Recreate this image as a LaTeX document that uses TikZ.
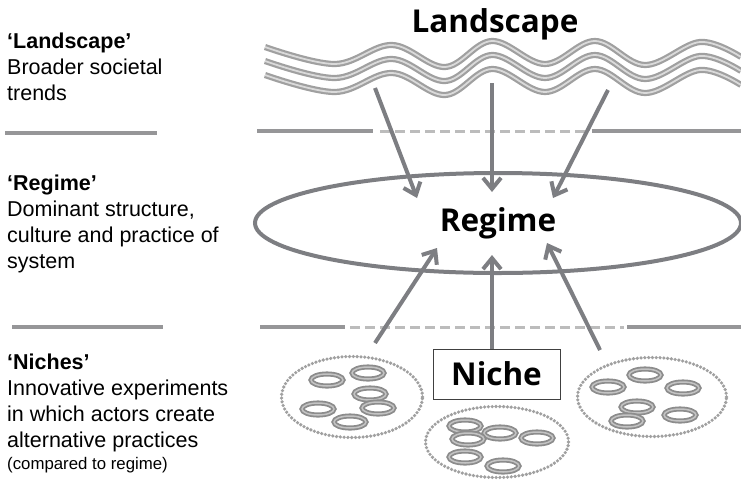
\documentclass[tikz,border=0pt]{standalone}
\usepackage{fontspec}
\setmainfont{Liberation Sans}
\newfontfamily\headfont{Open Sans}
\usetikzlibrary{arrows.meta,shapes.geometric,positioning}

\definecolor{arrowgray}{RGB}{125,126,130}
\definecolor{wavegray}{RGB}{160,160,160}
\definecolor{wavelight}{RGB}{218,218,218}
\definecolor{sepgray}{RGB}{150,150,152}
\definecolor{dashgray}{RGB}{188,188,188}
\definecolor{dotgray}{RGB}{160,160,160}
\definecolor{ringgray}{RGB}{140,140,140}
\definecolor{ringlight}{RGB}{195,195,195}

\tikzset{
  headtext/.style={font=\headfont\bfseries\fontsize{31.5}{36}\selectfont, inner sep=0pt},
  sidetext/.style={font=\fontsize{21.5}{26}\selectfont, align=left, inner sep=0pt, anchor=base west},
  notetext/.style={font=\fontsize{16.8}{20}\selectfont, inner sep=0pt, anchor=base west},
  flowarrow/.style={draw=arrowgray, line width=4pt, -{Straight Barb[length=11pt,width=18pt]}},
  regimering/.style={ellipse, draw=arrowgray, line width=4pt, minimum width=486pt, minimum height=100pt},
  nichecircle/.style={ellipse, draw=dotgray, line width=3.6pt, dash pattern=on 0pt off 3.8pt, line cap=round, inner sep=0pt},
  actor/.style={ellipse, draw=ringgray, line width=1.8pt, double=ringlight, double distance=1.5pt, minimum width=32pt, minimum height=12pt, inner sep=0pt},
  nichebox/.style={draw=black!75, line width=0.8pt, fill=white, minimum width=127pt, minimum height=50pt},
  solidsep/.style={draw=sepgray, line width=4pt},
  dashsep/.style={draw=dashgray, line width=3pt, dash pattern=on 10pt off 5pt},
  wave/.style={draw=wavegray, line width=2.2pt, double=wavelight, double distance=1.8pt},
}

\begin{document}
\begin{tikzpicture}[x=1pt,y=-1pt]
  \useasboundingbox (0,0) rectangle (741,485);

  % side descriptions
  \node[sidetext] (lstext) at (7,100) {\textbf{‘Landscape’}\\Broader societal\\trends};
  \node[sidetext] (rgtext) at (7,268) {\textbf{‘Regime’}\\Dominant structure,\\culture and practice of\\system};
  \node[sidetext] (nitext) at (7,447) {\textbf{‘Niches’}\\Innovative experiments\\in which actors create\\alternative practices};
  \node[notetext] (ninote) at (7,469) {(compared to regime)};

  % level separators
  \draw[solidsep] (5,133) -- (157,133);
  \draw[solidsep] (12,327) -- (163,327);
  \draw[solidsep] (257,131) -- (373,131);
  \draw[dashsep] (380,131) -- (588,131);
  \draw[solidsep] (592,131) -- (741,131);
  \draw[solidsep] (260,327) -- (345,327);
  \draw[dashsep] (350,327) -- (624,327);
  \draw[solidsep] (627,327) -- (741,327);

  % landscape trends
  \node[headtext] (landscape) at (495,24) {Landscape};
  \foreach \dy in {0,14,28}
    \draw[wave, shift={(0,\dy)}] plot[smooth, tension=0.6] coordinates
      {(265,47) (335,64) (392,45) (445,67) (492,41) (545,64) (595,41) (645,65) (700,42) (741,57)};

  % regime
  \node[regimering, headtext] (regime) at (498,223) {Regime};

  % niches
  \node[nichecircle, minimum width=141pt, minimum height=81pt] (clusterL) at (352,397) {};
  \node[nichecircle, minimum width=143pt, minimum height=71pt] (clusterM) at (497,442) {};
  \node[nichecircle, minimum width=149pt, minimum height=79pt] (clusterR) at (652,397) {};
  \foreach \p [count=\i] in {(327,380),(368,373),(370,394),(318,409),(378,408),(350,422)}
    \node[actor] (actL\i) at \p {};
  \foreach \p [count=\i] in {(465,426),(500,433),(468,439),(537,438),(465,457),(503,466)}
    \node[actor] (actM\i) at \p {};
  \foreach \p [count=\i] in {(645,375),(608,387),(683,388),(637,407),(680,415),(627,421)}
    \node[actor] (actR\i) at \p {};
  \node[nichebox, headtext] (niche) at (496.5,374) {Niche};

  % pressures between levels
  \coordinate (down1) at (375,88);   \coordinate (hit1) at (417,198);
  \coordinate (down2) at (492,83);   \coordinate (hit2) at (492,192);
  \coordinate (down3) at (608,90);   \coordinate (hit3) at (553,198);
  \coordinate (up1) at (375,343);    \coordinate (reach1) at (437,248);
  \coordinate (reach2) at (492,255);
  \coordinate (up3) at (600,350);    \coordinate (reach3) at (547,243);
  \draw[flowarrow] (down1) -- (hit1);
  \draw[flowarrow] (down2) -- (hit2);
  \draw[flowarrow] (down3) -- (hit3);
  \draw[flowarrow] (up1) -- (reach1);
  \draw[flowarrow] (niche.north -| reach2) -- (reach2);
  \draw[flowarrow] (up3) -- (reach3);
\end{tikzpicture}
\end{document}
